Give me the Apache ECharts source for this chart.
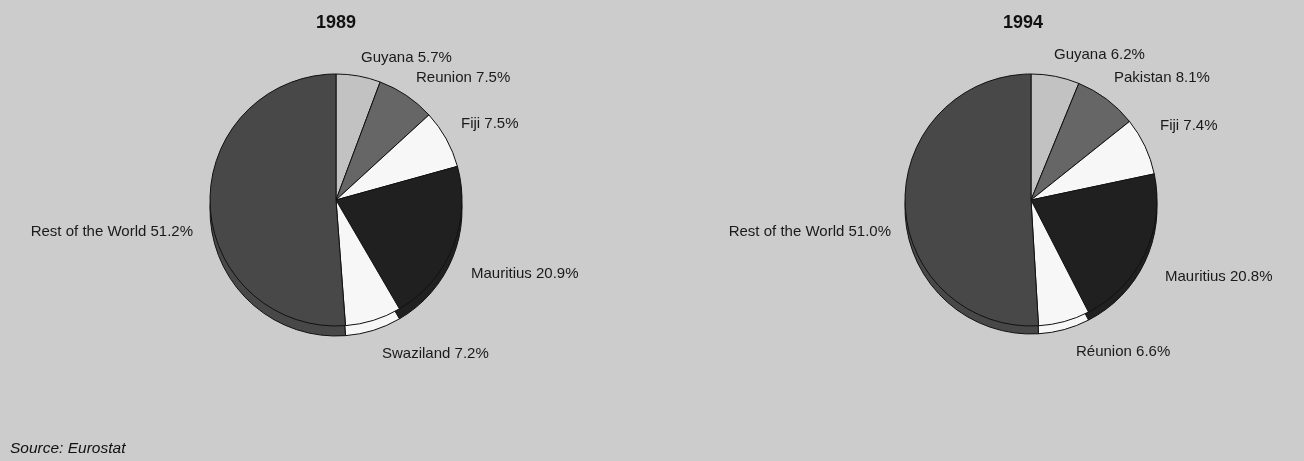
<!DOCTYPE html>
<html>
<head>
<meta charset="utf-8">
<script src="https://cdn.jsdelivr.net/npm/echarts@6/dist/echarts.min.js"></script>
<style>
html,body{margin:0;padding:0;background:#cccccc;}
#c{width:1304px;height:461px;}
</style>
</head>
<body>
<div id="c"></div>
<script>
// ---- data ----
const titles = ['1989', '1994'];
const names1989 = ['Guyana', 'Reunion', 'Fiji', 'Mauritius', 'Swaziland', 'Rest of the World'];
const values1989 = [5.7, 7.5, 7.5, 20.9, 7.2, 51.2];
const names1994 = ['Guyana', 'Pakistan', 'Fiji', 'Mauritius', 'Réunion', 'Rest of the World'];
const values1994 = [6.2, 8.1, 7.4, 20.8, 6.6, 51.0];
const sourceText = 'Source: Eurostat';

// ---- styling / layout ----
const sliceColors = ['#c2c2c2', '#666666', '#f7f7f7', '#202020', '#f7f7f7', '#484848'];
const labelPos1989 = [[361,58,'left'],[416,78,'left'],[461,124,'left'],[471,274,'left'],[382,354,'left'],[193,232,'right']];
const labelPos1994 = [[1054,55,'left'],[1114,78,'left'],[1160,126,'left'],[1165,277,'left'],[1076,352,'left'],[891,232,'right']];

function mkData(names, vals){
  return names.map((n,i)=>({name:n, value:vals[i], itemStyle:{color:sliceColors[i]}}));
}
function pieSeries(names, vals, cx, cy, r, shadow, pos){
  return {
    type:'pie', radius:r, center:[cx,cy], startAngle:90, clockwise:true,
    animation:false, silent:true, z: shadow?1:2,
    data: mkData(names, vals),
    itemStyle:{borderColor:'#111', borderWidth:1},
    label: shadow ? {show:false} : {
      show:true, position:'outside', formatter: p => p.name + ' ' + p.value.toFixed(1) + '%',
      overflow:'none', width:300,
      fontFamily:'Liberation Sans, Arial, sans-serif', fontSize:15, color:'#1a1a1a'
    },
    labelLine:{show:false},
    labelLayout: shadow ? null : function(p){
      const q = pos[p.dataIndex];
      return {x:q[0], y:q[1], align:q[2], verticalAlign:'middle'};
    }
  };
}

const chart = echarts.init(document.getElementById('c'), null, {renderer:'canvas'});
chart.setOption({
  backgroundColor:'#cccccc',
  title:[
    {text:titles[0], left:331, top:9, textAlign:'center',
     textStyle:{fontFamily:'Liberation Sans, Arial, sans-serif', fontSize:18, fontWeight:'bold', color:'#111'}},
    {text:titles[1], left:1018, top:9, textAlign:'center',
     textStyle:{fontFamily:'Liberation Sans, Arial, sans-serif', fontSize:18, fontWeight:'bold', color:'#111'}},
    {text:sourceText, left:5, top:436,
     textStyle:{fontFamily:'Liberation Sans, Arial, sans-serif', fontSize:15.5, fontStyle:'italic', fontWeight:'normal', color:'#111'}}
  ],
  series:[
    pieSeries(names1989, values1989, 336, 210, 126, true),
    pieSeries(names1989, values1989, 336, 200, 126, false, labelPos1989),
    pieSeries(names1994, values1994, 1031, 208, 126, true),
    pieSeries(names1994, values1994, 1031, 200, 126, false, labelPos1994)
  ]
});
</script>
</body>
</html>
